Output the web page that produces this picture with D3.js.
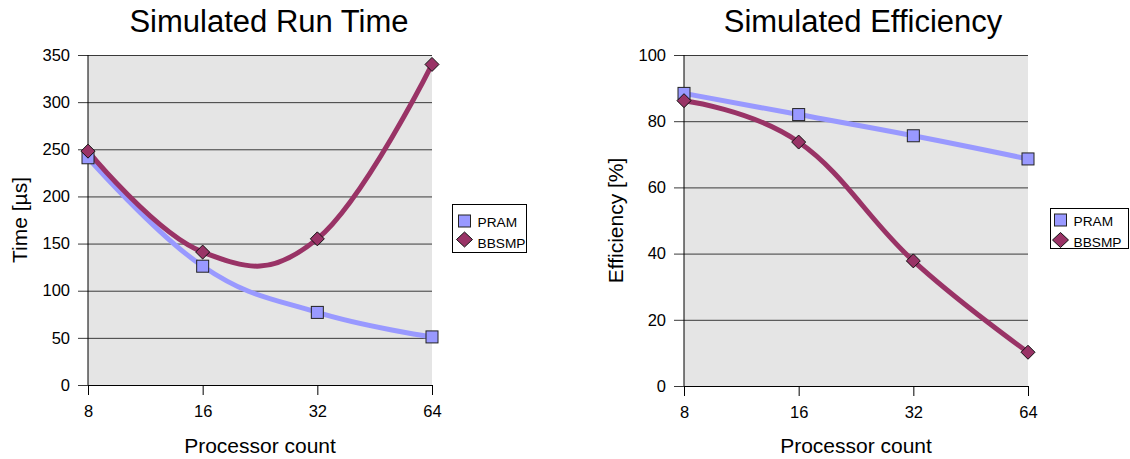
<!DOCTYPE html>
<html>
<head>
<meta charset="utf-8">
<script src="https://cdn.jsdelivr.net/npm/d3@7"></script>
<style>
  html, body { margin: 0; padding: 0; background: #fff; }
  svg { display: block; font-family: "Liberation Sans", Arial, sans-serif; }
</style>
</head>
<body>
<svg id="chart" width="1130" height="459"></svg>
<script>
// Processor counts on the x axis (categorical, evenly spaced)
const processors = ["8", "16", "32", "64"];

// Simulated run time in microseconds
const runTimePRAM = [241, 126, 77, 51];
const runTimeBBSMP = [248, 141, 155, 340];
const runTimeTicks = [0, 50, 100, 150, 200, 250, 300, 350];

// Simulated efficiency in percent
const effPRAM = [88.4, 82, 75.6, 68.6];
const effBBSMP = [86.2, 73.7, 37.8, 10.2];
const effTicks = [0, 20, 40, 60, 80, 100];

const seriesNames = ["PRAM", "BBSMP"];
const colors = { PRAM: "#9999ff", BBSMP: "#993366" };

const svg = d3.select("#chart");

function drawPanel(opts) {
  const g = svg.append("g");
  const x = d3.scalePoint().domain(processors).range([opts.left, opts.right]);
  const y = d3.scaleLinear().domain([0, opts.max]).range([opts.bottom, opts.top]);

  // plot background
  g.append("rect")
    .attr("x", opts.left).attr("y", opts.top)
    .attr("width", opts.right - opts.left).attr("height", opts.bottom - opts.top)
    .attr("fill", "#e5e5e5");

  // horizontal gridlines with left tick marks
  const yAxis = d3.axisLeft(y).tickValues(opts.ticks)
    .tickSize(-(opts.right - opts.left)).tickPadding(18);
  const ya = g.append("g").attr("transform", `translate(${opts.left},0)`).call(yAxis);
  ya.select(".domain").remove();
  ya.selectAll(".tick line").attr("stroke", "#3a3a3a").attr("x1", -10);
  ya.selectAll(".tick text").attr("font-size", 16.5).attr("fill", "#000")
    .attr("font-family", "Liberation Sans, Arial, sans-serif");

  // x axis with ticks hanging below
  const xAxis = d3.axisBottom(x).tickSize(10).tickPadding(10).tickSizeOuter(0);
  const xa = g.append("g").attr("transform", `translate(0,${opts.bottom})`).call(xAxis);
  xa.select(".domain").attr("stroke", "#000");
  xa.selectAll(".tick line").attr("stroke", "#000");
  xa.selectAll(".tick text").attr("font-size", 16.5).attr("fill", "#000")
    .attr("font-family", "Liberation Sans, Arial, sans-serif");

  // vertical axis line
  g.append("line")
    .attr("x1", opts.left).attr("x2", opts.left)
    .attr("y1", opts.top).attr("y2", opts.bottom)
    .attr("stroke", "#000");

  // smoothed connecting lines
  const line = d3.line()
    .x((d, i) => x(processors[i]))
    .y(d => y(d))
    .curve(d3.curveCardinal.tension(-0.2));

  const series = [
    { name: "PRAM", values: opts.pram },
    { name: "BBSMP", values: opts.bbsmp }
  ];

  series.forEach(s => {
    g.append("path")
      .attr("d", line(s.values))
      .attr("fill", "none")
      .attr("stroke", colors[s.name])
      .attr("stroke-width", 5)
      .attr("stroke-linecap", "butt");
  });

  // markers
  series.forEach(s => {
    s.values.forEach((v, i) => {
      const cx = x(processors[i]), cy = y(v);
      if (s.name === "PRAM") {
        g.append("rect")
          .attr("x", cx - 6).attr("y", cy - 6)
          .attr("width", 12).attr("height", 12)
          .attr("fill", colors.PRAM).attr("stroke", "#222").attr("stroke-width", 1);
      } else {
        g.append("path")
          .attr("d", `M${cx},${cy - 7}L${cx + 7},${cy}L${cx},${cy + 7}L${cx - 7},${cy}Z`)
          .attr("fill", colors.BBSMP).attr("stroke", "#111").attr("stroke-width", 1);
      }
    });
  });

  // title
  g.append("text")
    .attr("x", opts.titleX).attr("y", 31.5)
    .attr("text-anchor", "middle").attr("font-size", 31)
    .text(opts.title);

  // axis titles
  g.append("text")
    .attr("x", (opts.left + opts.right) / 2).attr("y", 453)
    .attr("text-anchor", "middle").attr("font-size", 21)
    .text("Processor count");

  g.append("text")
    .attr("transform", `translate(${opts.yLabelX},${(opts.top + opts.bottom) / 2}) rotate(-90)`)
    .attr("text-anchor", "middle").attr("font-size", 21)
    .text(opts.yLabel);

  // legend
  const L = opts.legend;
  const lg = g.append("g").attr("transform", `translate(${L.x},${L.y})`);
  lg.append("rect")
    .attr("width", L.w).attr("height", L.h)
    .attr("fill", "#fff").attr("stroke", "#000").attr("stroke-width", 1);
  seriesNames.forEach((name, i) => {
    const cy = L.rows[i];
    if (name === "PRAM") {
      lg.append("rect").attr("x", L.sx - 6).attr("y", cy - 6).attr("width", 12).attr("height", 12)
        .attr("fill", colors.PRAM).attr("stroke", "#222");
    } else {
      lg.append("path")
        .attr("d", `M${L.sx},${cy - 7.5}L${L.sx + 8},${cy}L${L.sx},${cy + 7.5}L${L.sx - 8},${cy}Z`)
        .attr("fill", colors.BBSMP).attr("stroke", "#111");
    }
    lg.append("text").attr("x", L.tx).attr("y", L.base[i])
      .attr("font-size", 13.7).text(name);
  });
}

drawPanel({
  left: 88, right: 432, top: 55, bottom: 385, max: 350, ticks: runTimeTicks,
  pram: runTimePRAM, bbsmp: runTimeBBSMP,
  title: "Simulated Run Time", titleX: 269,
  yLabel: "Time [µs]", yLabelX: 27,
  legend: { x: 452.5, y: 204.5, w: 74, h: 48, sx: 12, rows: [16.5, 35], tx: 25, base: [22, 43] }
});

drawPanel({
  left: 684, right: 1028, top: 55, bottom: 386, max: 100, ticks: effTicks,
  pram: effPRAM, bbsmp: effBBSMP,
  title: "Simulated Efficiency", titleX: 863,
  yLabel: "Efficiency [%]", yLabelX: 622.5,
  legend: { x: 1050.5, y: 208.5, w: 78, h: 40, sx: 10, rows: [11.5, 31.5], tx: 23, base: [17.5, 38] }
});
</script>
</body>
</html>
